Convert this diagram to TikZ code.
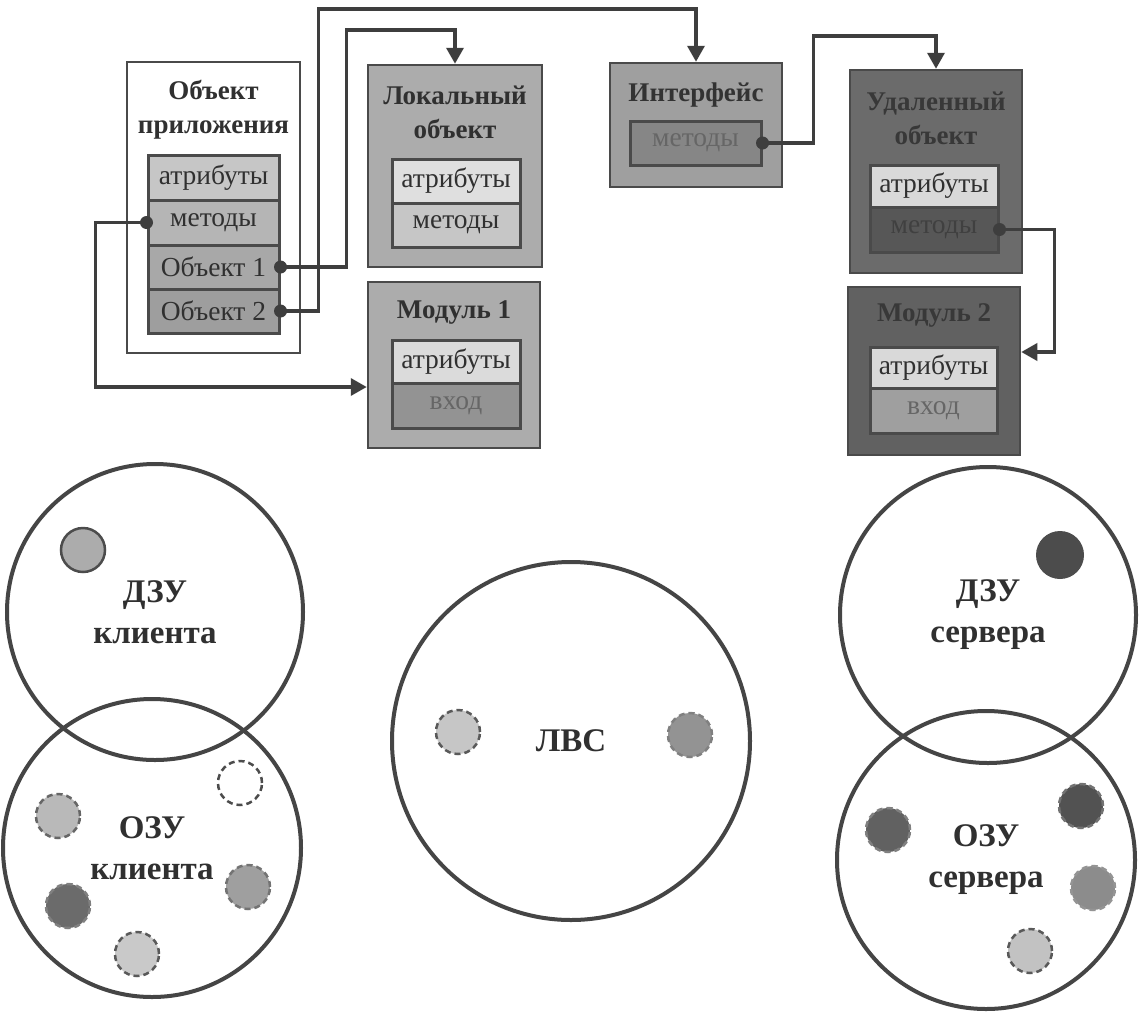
\documentclass[tikz,border=0pt]{standalone}
\usepackage{fontspec}
\setmainfont{Liberation Serif}
\usetikzlibrary{arrows.meta}
\definecolor{lineC}{HTML}{4A4A4A}
\definecolor{connC}{HTML}{3E3E3E}
\definecolor{circC}{HTML}{454545}
\definecolor{titleC}{HTML}{303030}
\begin{document}
\begin{tikzpicture}[x=1pt,y=-1pt,
  outerbox/.style={draw=lineC, line width=2.5pt, rectangle, inner sep=0pt},
  cell/.style={draw=lineC, line width=3pt, rectangle, inner sep=0pt, minimum width=#1, font=\fontsize{27.5}{30}\selectfont, text=titleC},
  ttl/.style={font=\bfseries\fontsize{27}{34}\selectfont, align=center, text=titleC},
  conn/.style={draw=connC, line width=3.5pt, -{Triangle[length=16pt,width=17pt]}},
  startdot/.style={fill=connC},
  big/.style={draw=circC, line width=4pt, circle, inner sep=0pt, font=\bfseries\fontsize{33}{41}\selectfont, align=center, text=titleC},
  sdot/.style={circle, inner sep=0pt, minimum size=44pt, line width=2.5pt},
  dsh/.style={dash pattern=on 6pt off 4pt}
]
\useasboundingbox[fill=white] (0,0) rectangle (1145,1017);

% ---------- Объект приложения ----------
\node[outerbox, fill=white, minimum width=173pt, minimum height=291pt] (app) at (213.5,207.5) {};
\node[ttl] (appT) at (213.5,110) {Объект\\приложения};
\node[cell=131pt, fill=gray!45, minimum height=45pt] (appA) at (213.5,177.5) {атрибуты};
\node[cell=131pt, fill=gray!58, minimum height=45pt] (appM) at (213.5,222.5) {методы};
\node[cell=131pt, fill=gray!68, minimum height=44pt] (ob1) at (213.5,267) {Объект 1};
\node[cell=131pt, fill=gray!76, minimum height=44pt] (ob2) at (213.5,311) {Объект 2};

% ---------- Локальный объект ----------
\node[outerbox, fill=gray!65, minimum width=174pt, minimum height=202pt] (loc) at (455,166) {};
\node[ttl] (locT) at (455,112) {Локальный\\объект};
\node[cell=128pt, fill=gray!25, minimum height=44pt] (locA) at (456,181) {атрибуты};
\node[cell=128pt, fill=gray!45, minimum height=44pt] (locM) at (456,225) {методы};

% ---------- Модуль 1 ----------
\node[outerbox, fill=gray!65, minimum width=172pt, minimum height=166pt] (mod1) at (454,365) {};
\node[ttl] (mod1T) at (454,312) {Модуль 1};
\node[cell=128pt, fill=gray!28, minimum height=43pt] (mod1A) at (456,361.5) {атрибуты};
\node[cell=128pt, fill=gray!85, minimum height=45pt, text=black!60] (mod1V) at (456,405.5) {вход};

% ---------- Интерфейс ----------
\node[outerbox, fill=gray!75, minimum width=172pt, minimum height=124pt] (intf) at (696,125) {};
\node[ttl, text=black!80] (intfT) at (696,95) {Интерфейс};
\node[cell=131pt, fill=gray!95, minimum height=44pt, text=black!60] (intfM) at (695.5,143) {методы};

% ---------- Удаленный объект ----------
\node[outerbox, fill=black!58, minimum width=172pt, minimum height=203pt] (rem) at (936,171.5) {};
\node[ttl, text=black!78] (remT) at (936,118) {Удаленный\\объект};
\node[cell=128pt, fill=gray!30, minimum height=42pt] (remA) at (934,186) {атрибуты};
\node[cell=128pt, fill=black!66, minimum height=45pt, text=black!75] (remM) at (934,229.5) {методы};

% ---------- Модуль 2 ----------
\node[outerbox, fill=black!62, minimum width=172pt, minimum height=168pt] (mod2) at (934,371) {};
\node[ttl, text=black!78] (mod2T) at (934,315) {Модуль 2};
\node[cell=127pt, fill=gray!30, minimum height=41pt] (mod2A) at (933.5,367.5) {атрибуты};
\node[cell=127pt, fill=gray!75, minimum height=45pt, text=black!60] (mod2V) at (933.5,410.5) {вход};

% ---------- Connectors ----------
\draw[conn] (appM.west) -- ++(-51,0) |- ([yshift=-22pt]mod1.west);
\draw[conn] (ob1.east) -- ++(66,0) |- ([yshift=34pt]loc.north) -- (loc.north);
\draw[conn] (ob2.east) -- ++(38,0) |- ([yshift=53pt]intf.north) -- (intf.north);
\draw[conn] (intfM.east) -- ++(51,0) |- ([yshift=33pt]rem.north) -- (rem.north);
\draw[conn] (remM.east) -- ++(55,0) |- ([yshift=19pt]mod2.east);
\fill[startdot] (appM.west) circle (6.5pt);
\fill[startdot] (ob1.east) circle (6.5pt);
\fill[startdot] (ob2.east) circle (6.5pt);
\fill[startdot] (intfM.east) circle (6.5pt);
\fill[startdot] (remM.east) circle (6.5pt);

% ---------- Memory circles ----------
\node[big, minimum size=296pt] (dzuC) at (155,612) {ДЗУ\\клиента};
\node[big, minimum size=298pt] (ozuC) at (152,848) {ОЗУ\\клиента};
\node[big, minimum size=358pt] (lan) at (571,741) {ЛВС};
\node[big, minimum size=296pt] (dzuS) at (988,615) {ДЗУ\\сервера};
\node[big, minimum size=298pt] (ozuS) at (986,860) {ОЗУ\\сервера};

% client dots
\node[sdot, fill=gray!65, draw=black!70] (c0) at (83,550) {};
\node[sdot, fill=gray!55, draw=black!60, dsh] (c1) at (58,816) {};
\node[sdot, draw=black!70, dsh] (c2) at (240,783) {};
\node[sdot, fill=gray!75, draw=black!55, dsh] (c3) at (248,887) {};
\node[sdot, fill=black!58, draw=black!50, dsh] (c4) at (68,906) {};
\node[sdot, fill=gray!42, draw=black!65, dsh] (c5) at (137,954) {};
% LAN dots
\node[sdot, fill=gray!45, draw=black!65, dsh] (l1) at (458,732) {};
\node[sdot, fill=gray!85, draw=black!50, dsh] (l2) at (690,735) {};
% server dots
\node[sdot, fill=black!70, minimum size=48pt, line width=0pt] (s0) at (1060,555) {};
\node[sdot, fill=black!62, draw=black!50, dsh] (s1) at (888,830) {};
\node[sdot, fill=black!68, draw=black!55, dsh] (s2) at (1081,806) {};
\node[sdot, fill=gray!90, draw=black!42, dsh] (s3) at (1093,888) {};
\node[sdot, fill=gray!48, draw=black!65, dsh] (s4) at (1030,951) {};
\end{tikzpicture}
\end{document}
